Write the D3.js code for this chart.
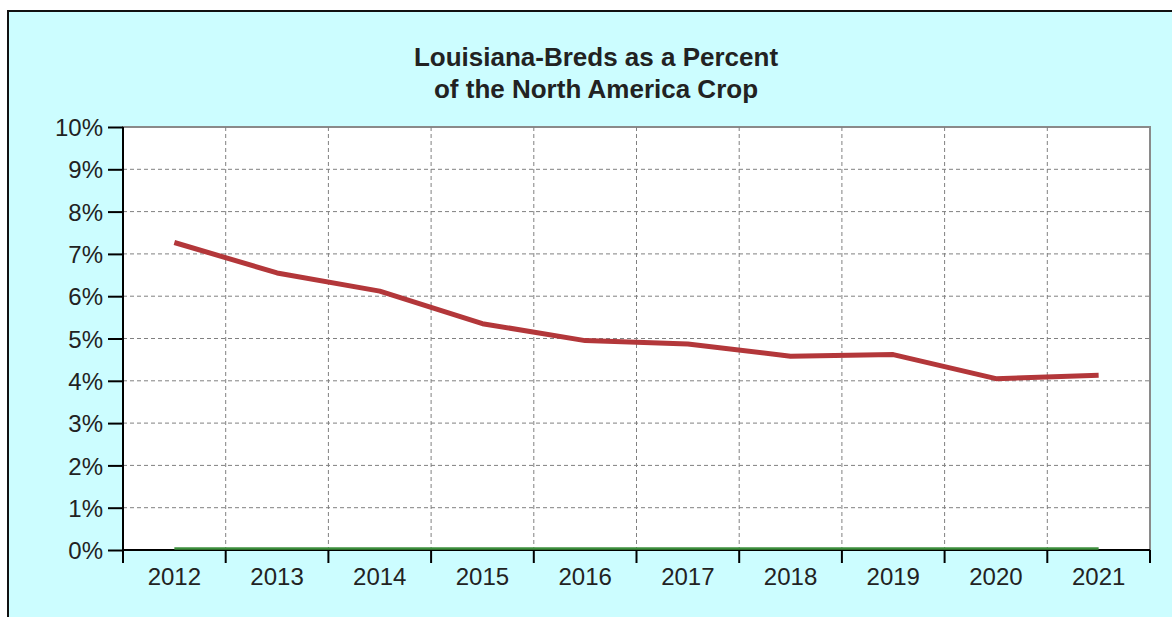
<!DOCTYPE html>
<html>
<head>
<meta charset="utf-8">
<script src="https://cdn.jsdelivr.net/npm/d3@7"></script>
<style>
  body { margin: 0; background: #fff; }
  svg { display: block; font-family: "Liberation Sans", Arial, sans-serif; }
  .grid line { stroke: #808080; stroke-dasharray: 4,3; stroke-width: 1; }
  .axis path, .axis line { stroke: #000; stroke-width: 2; }
  .axis text { font-size: 24px; fill: #222; }
</style>
</head>
<body>
<svg id="chart"></svg>
<script>
// data
const years = ["2012", "2013", "2014", "2015", "2016", "2017", "2018", "2019", "2020", "2021"];
const laPercent = [7.27, 6.55, 6.12, 5.35, 4.95, 4.87, 4.58, 4.62, 4.05, 4.13];
const baseline = [0, 0, 0, 0, 0, 0, 0, 0, 0, 0];
const yTicks = [0, 1, 2, 3, 4, 5, 6, 7, 8, 9, 10];
const titleLines = ["Louisiana-Breds as a Percent", "of the North America Crop"];

const W = 1172, H = 617;
const margin = { top: 127, right: 22, bottom: 67, left: 123 };
const width = W - margin.left - margin.right;
const height = H - margin.top - margin.bottom;

const svg = d3.select("#chart").attr("width", W).attr("height", H);

// outer panel
svg.append("rect")
  .attr("x", 8).attr("y", 11)
  .attr("width", W + 10).attr("height", H)
  .attr("fill", "#ccfdff")
  .attr("stroke", "#111")
  .attr("stroke-width", 2);

// title
svg.append("g")
  .selectAll("text")
  .data(titleLines)
  .join("text")
  .attr("x", 596)
  .attr("y", (d, i) => 66 + i * 32)
  .attr("text-anchor", "middle")
  .attr("font-size", "26px")
  .attr("font-weight", "bold")
  .attr("fill", "#222")
  .text((d) => d);

const chart = svg.append("g")
  .attr("transform", `translate(${margin.left},${margin.top})`);

const x = d3.scaleBand().domain(years).range([0, width]);
const y = d3.scaleLinear().domain([0, 10]).range([height, 0]);

// plot background
chart.append("rect")
  .attr("width", width).attr("height", height)
  .attr("fill", "#fff")
  .attr("stroke", "#8a8a8a")
  .attr("stroke-width", 2);

// grid
const grid = chart.append("g").attr("class", "grid");
grid.selectAll(".h")
  .data(yTicks.slice(1, -1))
  .join("line")
  .attr("class", "h")
  .attr("x1", 0).attr("x2", width)
  .attr("y1", (d) => y(d)).attr("y2", (d) => y(d));
grid.selectAll(".v")
  .data(years.slice(1))
  .join("line")
  .attr("class", "v")
  .attr("x1", (d) => x(d)).attr("x2", (d) => x(d))
  .attr("y1", 0).attr("y2", height);

const line = (vals) => d3.line()
  .x((d, i) => x(years[i]) + x.bandwidth() / 2)
  .y((d) => y(d))(vals);

// axes
const xAxis = chart.append("g")
  .attr("class", "axis")
  .attr("transform", `translate(0,${height})`)
  .call(d3.axisBottom(x).tickSize(0).tickPadding(18));
xAxis.select(".domain").attr("d", `M0,0H${width}`);
xAxis.selectAll(".tick-mark")
  .data(years.concat(["end"]))
  .join("line")
  .attr("class", "tick-mark")
  .attr("x1", (d, i) => i * x.step()).attr("x2", (d, i) => i * x.step())
  .attr("y1", 0).attr("y2", 13);

const yAxis = chart.append("g")
  .attr("class", "axis")
  .call(d3.axisLeft(y).tickValues(yTicks).tickSize(15).tickPadding(5)
    .tickFormat((d) => d + "%"));
yAxis.select(".domain").attr("d", `M0,0V${height + 13}`);
yAxis.selectAll("text").attr("dy", "0.36em");

// zero series (green), sits just on top of the axis
chart.append("path")
  .attr("d", line(baseline))
  .attr("transform", "translate(0,-1.5)")
  .attr("fill", "none")
  .attr("stroke", "#3c8f3c")
  .attr("stroke-width", 2.5);

// main series
chart.append("path")
  .attr("d", line(laPercent))
  .attr("fill", "none")
  .attr("stroke", "#b3373a")
  .attr("stroke-width", 5)
  .attr("stroke-linejoin", "round");
</script>
</body>
</html>
